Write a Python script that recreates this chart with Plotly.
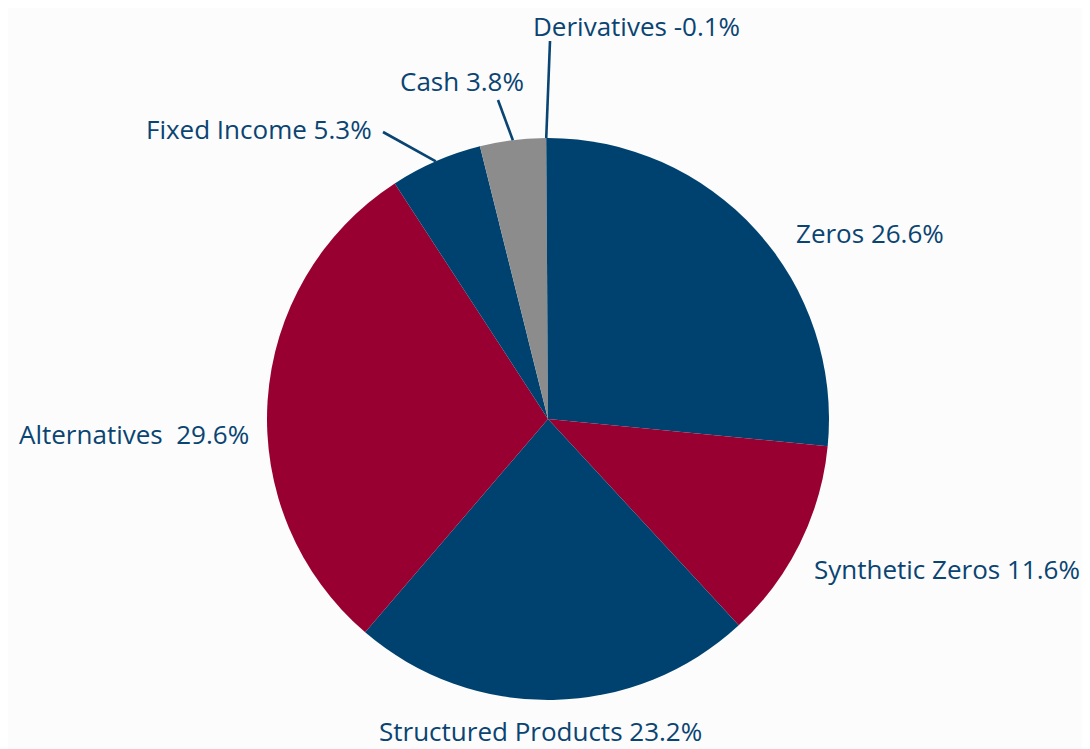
import math
import plotly.graph_objects as go

# ---- data ----
categories = ["Zeros", "Synthetic Zeros", "Structured Products", "Alternatives",
              "Fixed Income", "Cash", "Derivatives"]
values = [26.6, 11.6, 23.2, 29.6, 5.3, 3.8, -0.1]
label_texts = ["Zeros 26.6%", "Synthetic Zeros 11.6%", "Structured Products 23.2%",
               "Alternatives  29.6%", "Fixed Income 5.3%", "Cash 3.8%", "Derivatives -0.1%"]
colors = ["#00426F", "#970030", "#00426F", "#970030", "#00426F", "#8C8C8C", "#00426F"]

# ---- layout constants (pixels in the 1090x749 window) ----
WIN_W, WIN_H = 1090, 749
OFF = 8  # page body margin
W, H = WIN_W - OFF, WIN_H - OFF
CX, CY, R = 548, 419, 281
TEXT_COLOR = "#0A4472"
FONT = "Open Sans"
FS = 26

def px_to_paper(x, y):
    return (x - OFF) / W, 1 - (y - OFF) / H

label_pos = {
    "Zeros": (795, 233, "left"),
    "Synthetic Zeros": (813, 569, "left"),
    "Structured Products": (540, 731, "center"),
    "Alternatives": (18, 434, "left"),
    "Fixed Income": (145, 129, "left"),
    "Cash": (399, 81, "left"),
    "Derivatives": (532, 26, "left"),
}
leader_end = {
    "Fixed Income": (383, 132),
    "Cash": (498, 100),
    "Derivatives": (550, 41),
}

sizes = [abs(v) for v in values]
total = sum(sizes)

dx0, dy1 = px_to_paper(CX - R, CY - R)
dx1, dy0 = px_to_paper(CX + R, CY + R)

fig = go.Figure(go.Pie(
    labels=categories,
    values=sizes,
    sort=False,
    direction="clockwise",
    rotation=0,
    marker=dict(colors=colors, line=dict(width=0)),
    textinfo="none",
    hoverinfo="label",
    showlegend=False,
    domain=dict(x=[dx0, dx1], y=[dy0, dy1]),
))

shapes = []
annotations = []
cum = 0.0
for cat, s, txt in zip(categories, sizes, label_texts):
    mid = (cum + s / 2) / total
    start = cum / total
    cum += s
    ang = 2 * math.pi * (start if cat == "Derivatives" else mid)
    sx = CX + R * math.sin(ang)
    sy = CY - R * math.cos(ang)
    if cat in leader_end:
        ex, ey = leader_end[cat]
        x0, y0 = px_to_paper(sx, sy)
        x1, y1 = px_to_paper(ex, ey)
        shapes.append(dict(type="line", xref="paper", yref="paper",
                           x0=x0, y0=y0, x1=x1, y1=y1,
                           line=dict(color=TEXT_COLOR, width=2.6)))
    lx, ly, anchor = label_pos[cat]
    ax, ay = px_to_paper(lx, ly)
    annotations.append(dict(x=ax, y=ay, xref="paper", yref="paper", text=txt,
                            showarrow=False, xanchor=anchor, yanchor="middle",
                            borderpad=0,
                            font=dict(family=FONT, size=FS, color=TEXT_COLOR)))

fig.update_layout(
    width=W, height=H,
    margin=dict(l=0, r=0, t=0, b=0),
    paper_bgcolor="#FCFCFC",
    plot_bgcolor="#FCFCFC",
    shapes=shapes,
    annotations=annotations,
)

fig.write_html("out.html")
